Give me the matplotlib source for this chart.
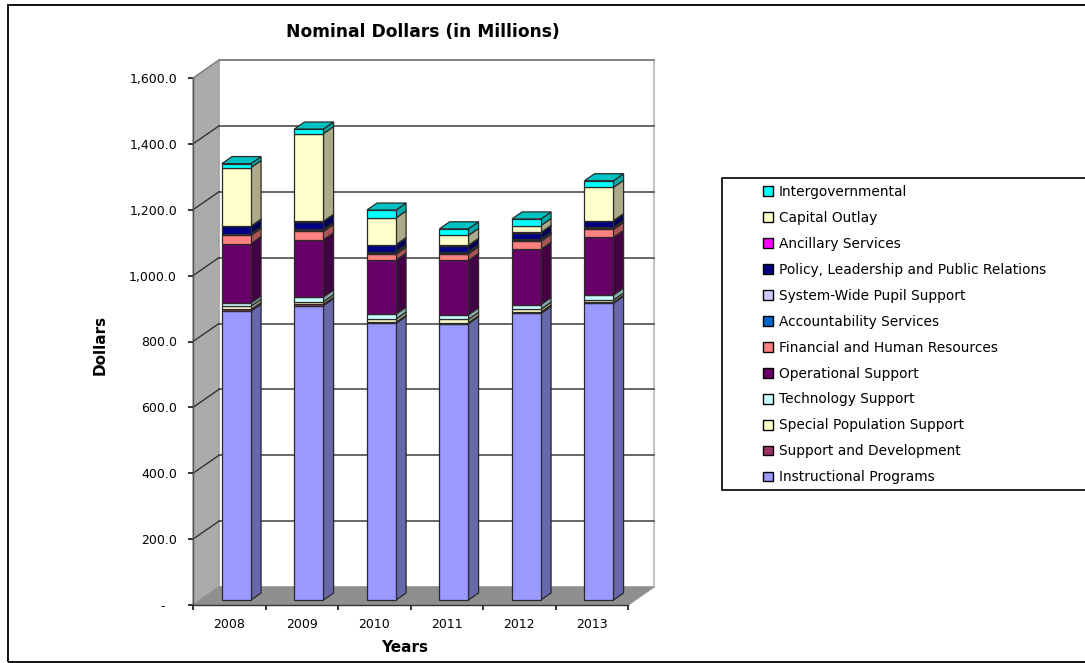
import matplotlib
matplotlib.use("Agg")
import matplotlib.pyplot as plt
from matplotlib.patches import Polygon, Patch, Rectangle
from matplotlib.colors import to_rgb

plt.rcParams['font.family'] = ['DejaVu Sans']

years = ["2008", "2009", "2010", "2011", "2012", "2013"]
y_ticks = [0, 200, 400, 600, 800, 1000, 1200, 1400, 1600]
y_tick_labels = ["-   ", "200.0", "400.0", "600.0", "800.0", "1,000.0", "1,200.0", "1,400.0", "1,600.0"]

instructional = [877, 894, 840, 839, 870, 901]
support_dev = [5, 4, 3, 3, 4, 3]
special_pop = [10, 8, 10, 10, 9, 7]
technology = [10, 14, 15, 14, 14, 15]
operational = [180, 174, 164, 165, 168, 175]
financial = [25, 25, 18, 20, 24, 24]
accountability = [3, 3, 4, 3, 3, 3]
system_wide = [2, 3, 4, 4, 3, 3]
policy = [22, 24, 20, 18, 20, 20]
ancillary = [1, 1, 1, 1, 1, 1]
capital = [178, 266, 81, 30, 21, 101]
intergov = [12, 14, 24, 20, 20, 20]

series = [
    ("Instructional Programs", instructional, "#9999FF"),
    ("Support and Development", support_dev, "#993366"),
    ("Special Population Support", special_pop, "#FFFFCC"),
    ("Technology Support", technology, "#CCFFFF"),
    ("Operational Support", operational, "#660066"),
    ("Financial and Human Resources", financial, "#FF8080"),
    ("Accountability Services", accountability, "#0066CC"),
    ("System-Wide Pupil Support", system_wide, "#CCCCFF"),
    ("Policy, Leadership and Public Relations", policy, "#000080"),
    ("Ancillary Services", ancillary, "#FF00FF"),
    ("Capital Outlay", capital, "#FFFFCC"),
    ("Intergovernmental", intergov, "#00FFFF"),
]

W, H = 1085, 663
fig = plt.figure(figsize=(W / 100, H / 100), dpi=100)
ax = fig.add_axes([193 / W, (H - 605) / H, 435 / W, 527 / H])
ax.set_xlim(0, 6)
ax.set_ylim(0, 1600)
ax.patch.set_visible(False)

# oblique depth of the 3d box, in data units
DX = 26 / 72.5
DY = 18 / (527 / 1600)


def proj(x, y, d):
    return (x + d * DX, y + d * DY)


def shade(color, f):
    return tuple(c * f for c in to_rgb(color))


def face(points, color, z, lw=0.9, ec="#2a2a2a"):
    ax.add_patch(Polygon(points, closed=True, facecolor=color, edgecolor=ec,
                         linewidth=lw, zorder=z, clip_on=False))


# back wall, left wall, floor
face([proj(0, 0, 1), proj(6, 0, 1), proj(6, 1600, 1), proj(0, 1600, 1)], "white", 1, ec="#BEBEBE", lw=1.3)
face([proj(0, 0, 0), proj(0, 0, 1), proj(0, 1600, 1), proj(0, 1600, 0)], "#ABABAB", 1.1, ec="#A0A0A0")
face([proj(0, 0, 0), proj(6, 0, 0), proj(6, 0, 1), proj(0, 0, 1)], "#8F8F8F", 1.2, ec="#8F8F8F")

# grid lines run across the back wall and down the left wall
for v in y_ticks[1:]:
    x0, y0 = proj(0, v, 0)
    x1, y1 = proj(0, v, 1)
    x2, y2 = proj(6, v, 1)
    grid_col = "#808080" if v == 1600 else "#5a5a5a"
    ax.plot([x1, x2], [y1, y2], color=grid_col, lw=1.3, zorder=2, clip_on=False)
    ax.plot([x0, x1], [y0, y1], color="#808080" if v == 1600 else "#333333", lw=1.0, zorder=2, clip_on=False)

# bars
bar_w = 0.4
d_front = 5 / 18
d_back = 12 / 18
z = 3
for i in range(len(years)):
    left = i + 0.5 - bar_w / 2
    right = i + 0.5 + bar_w / 2
    bottom = 0
    for name, vals, col in series:
        top = bottom + vals[i]
        face([proj(right, bottom, d_front), proj(right, bottom, d_back),
              proj(right, top, d_back), proj(right, top, d_front)], shade(col, 0.67), z)
        face([proj(left, bottom, d_front), proj(right, bottom, d_front),
              proj(right, top, d_front), proj(left, top, d_front)], col, z + 0.1)
        bottom = top
    face([proj(left, bottom, d_front), proj(right, bottom, d_front),
          proj(right, bottom, d_back), proj(left, bottom, d_back)], shade(series[-1][2], 0.76), z + 0.2)
    z += 1

# axes
for s in ["top", "right"]:
    ax.spines[s].set_visible(False)
ax.spines["left"].set_linewidth(1.0)
ax.spines["left"].set_color("#555555")
ax.spines["bottom"].set_linewidth(1.0)
ax.spines["bottom"].set_color("#333333")
ax.set_yticks(y_ticks)
ax.set_yticklabels(y_tick_labels, fontsize=9)
ax.set_xticks(range(7))
ax.set_xticklabels([])
ax.set_xticks([i + 0.5 for i in range(6)], minor=True)
ax.set_xticklabels(years, minor=True, fontsize=9)
ax.tick_params(axis="x", which="minor", length=0, pad=9)
ax.tick_params(axis="x", which="major", length=3.5, width=1.1)
ax.tick_params(axis="y", length=3.5, width=1.1, pad=8)

fig.text(423 / W, 1 - 32 / H, "Nominal Dollars (in Millions)", ha="center", va="center",
         fontsize=12.3, fontweight="bold")
fig.text(405 / W, 1 - 648 / H, "Years", ha="center", va="center", fontsize=11, fontweight="bold")
fig.text(100 / W, 1 - 345 / H, "Dollars", ha="center", va="center", rotation=90,
         fontsize=11, fontweight="bold")

# outer frame and legend box
fig.add_artist(Rectangle((7.5 / W, 1.5 / H), 1.01, 1 - 6 / H, transform=fig.transFigure,
                         facecolor="none", edgecolor="black", lw=1.3))
fig.add_artist(Rectangle((722 / W, (H - 490) / H), 1.01, 312 / H, transform=fig.transFigure,
                         facecolor="white", edgecolor="black", lw=1.2, zorder=5))

handles = [Patch(facecolor=col, edgecolor="black", linewidth=1.0, label=name)
           for name, vals, col in reversed(series)]
leg = fig.legend(handles=handles, loc="upper left", bbox_to_anchor=(757.5 / W, 1 - 179 / H),
                 frameon=False, fontsize=9.9, labelspacing=0.87, handlelength=0.72,
                 handleheight=0.72, handletextpad=0.4, borderpad=0.42, borderaxespad=0)
leg.set_zorder(6)

fig.savefig("out.png", dpi=100)
